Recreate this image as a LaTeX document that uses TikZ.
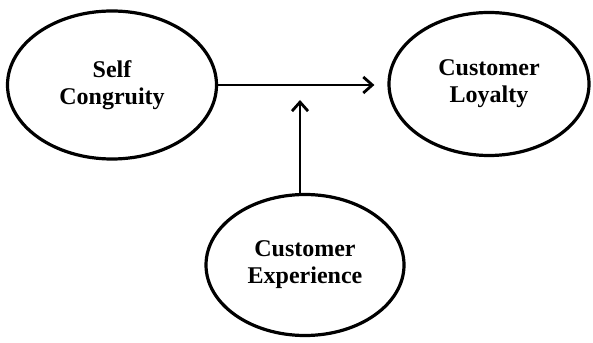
\documentclass[tikz,border=0pt]{standalone}
\usepackage{fontspec}
\setmainfont{Liberation Serif}
\usetikzlibrary{shapes.geometric}
\usetikzlibrary{arrows.meta}
\tikzstyle{construct}=[draw, ellipse, line width=3.2pt, inner sep=0, align=center, font=\fontsize{24}{27}\selectfont\bfseries]
\tikzstyle{path}=[line width=2.8pt, -{Straight Barb[length=9pt, width=16pt, line width=2.8pt]}]

\begin{document}
\begin{tikzpicture}[x=1pt, y=1pt]
          \useasboundingbox (0, 0) rectangle (593, 342);
          \node[construct, minimum width=209pt, minimum height=148pt] (self) at (112, 257) {Self\\Congruity};
          \node[construct, minimum width=200pt, minimum height=143pt] (loyalty) at (489, 258) {Customer\\Loyalty};
          \node[construct, minimum width=198pt, minimum height=141pt] (experience) at (305, 77) {Customer\\Experience};
          \coordinate (join) at (300, 242);

          \draw[path, shorten >=13pt] (self.east |- 0, 257) -- (loyalty.west |- 0, 257);
          \draw[path] (join |- experience.north) -- (join);
        \end{tikzpicture}
\end{document}
